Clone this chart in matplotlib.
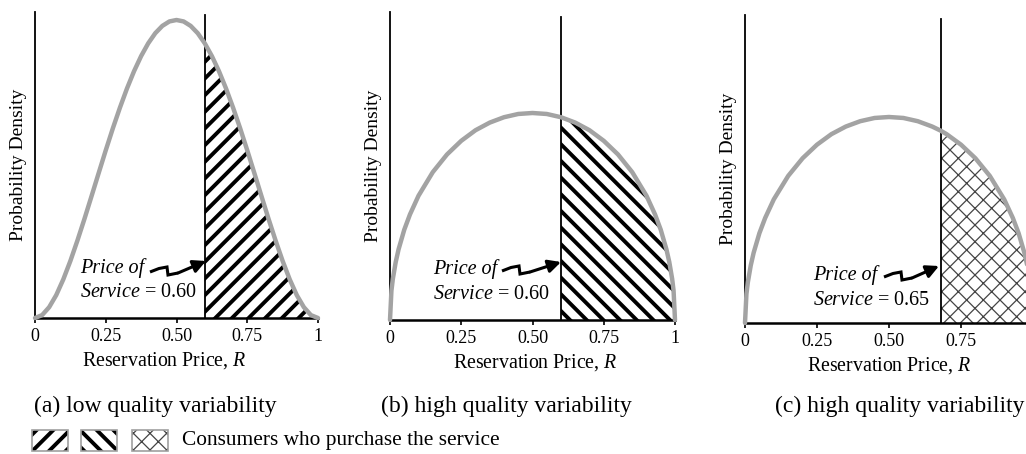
import numpy as np
import matplotlib
matplotlib.use("Agg")
import matplotlib.pyplot as plt
from matplotlib.lines import Line2D
from matplotlib.patches import Rectangle, FancyArrowPatch

plt.rcParams['font.family'] = ['Liberation Serif', 'DejaVu Serif']
plt.rcParams['mathtext.fontset'] = 'custom'
plt.rcParams['mathtext.rm'] = 'Liberation Serif'
plt.rcParams['mathtext.it'] = 'Liberation Serif:italic'

# ---------------- data ----------------
# (a) low quality variability: bell-shaped density
xa = [0, 0.025, 0.05, 0.075, 0.1, 0.125, 0.15, 0.175, 0.2, 0.225, 0.25, 0.275,
      0.3, 0.325, 0.35, 0.375, 0.4, 0.425, 0.45, 0.475, 0.5, 0.525, 0.55, 0.575,
      0.6, 0.625, 0.65, 0.675, 0.7, 0.725, 0.75, 0.775, 0.8, 0.825, 0.85, 0.875,
      0.9, 0.925, 0.95, 0.975, 1.0]
ya = [0, 0.018, 0.068, 0.144, 0.243, 0.359, 0.488, 0.625, 0.768, 0.912, 1.055,
      1.193, 1.323, 1.444, 1.553, 1.648, 1.728, 1.792, 1.838, 1.866, 1.875,
      1.866, 1.838, 1.792, 1.728, 1.648, 1.553, 1.444, 1.323, 1.193, 1.055,
      0.912, 0.768, 0.625, 0.488, 0.359, 0.243, 0.144, 0.068, 0.018, 0]

# (b) high quality variability: dome-shaped density
xb = [0, 0.005, 0.01, 0.02, 0.03, 0.05, 0.07, 0.1, 0.15, 0.2, 0.25, 0.3, 0.35,
      0.4, 0.45, 0.5, 0.55, 0.6, 0.65, 0.7, 0.75, 0.8, 0.85, 0.9, 0.93, 0.95,
      0.97, 0.98, 0.99, 0.995, 1.0]
yb = [0, 0.180, 0.253, 0.356, 0.434, 0.555, 0.649, 0.764, 0.909, 1.018, 1.102,
      1.167, 1.214, 1.247, 1.267, 1.273, 1.267, 1.247, 1.214, 1.167, 1.102,
      1.018, 0.909, 0.764, 0.649, 0.555, 0.434, 0.356, 0.253, 0.180, 0]

# (c) high quality variability, higher price
xc = [0, 0.005, 0.01, 0.02, 0.03, 0.05, 0.07, 0.1, 0.15, 0.2, 0.25, 0.3, 0.35,
      0.4, 0.45, 0.5, 0.55, 0.6, 0.65, 0.68, 0.7, 0.75, 0.8, 0.85, 0.9, 0.93,
      0.95, 0.97, 0.98, 0.99, 0.995, 1.0]
yc = [0, 0.180, 0.253, 0.356, 0.434, 0.555, 0.649, 0.764, 0.909, 1.018, 1.102,
      1.167, 1.214, 1.247, 1.267, 1.273, 1.267, 1.247, 1.214, 1.188, 1.167,
      1.102, 1.018, 0.909, 0.764, 0.649, 0.555, 0.434, 0.356, 0.253, 0.180, 0]

prices = [0.60, 0.60, 0.68]          # drawn position of the price line
price_labels = ["0.60", "0.60", "0.65"]
tick_vals = [0, 0.25, 0.5, 0.75, 1]
tick_labels = ["0", "0.25", "0.50", "0.75", "1"]
captions = ["(a) low quality variability", "(b) high quality variability",
            "(c) high quality variability"]
legend_text = "Consumers who purchase the service"

# ---------------- layout ----------------
W, H = 1026, 454
fig = plt.figure(figsize=(W / 100, H / 100), dpi=100)

def rect(l, r, t, b):
    return [l / W, 1 - b / H, (r - l) / W, (b - t) / H]

def fx(x):
    return x / W

def fy(y):
    return 1 - y / H

ax_px = [(35, 318, 12, 318), (390, 675, 12, 320), (745, 1033, 15, 323)]
peak_px = [20, 113, 117]
line_top_px = [15, 17, 19]
xlabel_center = [0.455, 0.51, 0.50]
hatches = ['//', '\\\\', 'xx']
hatch_lw = [2.8, 2.8, 0.9]
hatch_col = ['black', 'black', '#444444']
datasets = [(xa, ya), (xb, yb), (xc, yc)]
curve_col = '#a3a3a3'

for i, ((xs, ys), (l, r, t, b)) in enumerate(zip(datasets, ax_px)):
    ax = fig.add_axes(rect(l, r, t, b))
    xs = np.asarray(xs)
    ys = np.asarray(ys)
    peak = ys.max()
    frac = (b - peak_px[i]) / (b - t)
    ymax = peak / frac
    ax.set_xlim(0, 1)
    ax.set_ylim(0, ymax)

    p = prices[i]
    m = xs >= p - 1e-9
    coll = ax.fill_between(xs[m], 0, ys[m], facecolor='white',
                           edgecolor=hatch_col[i], hatch=hatches[i],
                           linewidth=0, zorder=1)
    try:
        coll.set_hatch_linewidth(hatch_lw[i])
    except Exception:
        pass
    ax.plot(xs, ys, color=curve_col, lw=3.2, solid_capstyle='round',
            zorder=3, clip_on=False)
    lt = (b - line_top_px[i]) / (b - t)
    ax.axvline(p, ymin=0, ymax=lt, color='black', lw=1.3, zorder=2)

    for s in ['top', 'right']:
        ax.spines[s].set_visible(False)
    ax.spines['left'].set_linewidth(1.3)
    ax.spines['bottom'].set_linewidth(1.8)
    ax.set_yticks([])
    if i == 2:
        ax.set_xticks(tick_vals[:-1])
        ax.set_xticklabels(tick_labels[:-1])
    else:
        ax.set_xticks(tick_vals)
        ax.set_xticklabels(tick_labels)
    ax.tick_params(axis='x', direction='out', length=3.5, width=1.2,
                   labelsize=13, pad=4)
    ax.set_xlabel("Reservation Price, $R$", fontsize=14.3)
    ax.xaxis.set_label_coords(xlabel_center[i], -0.105)
    ax.set_ylabel("Probability Density", fontsize=14)
    ax.yaxis.set_label_coords(-0.028, 0.5)
    ax.patch.set_alpha(0)

# ---------------- price annotations ----------------
text_left = [80, 433, 813]
base1 = [273, 274, 280]
base2 = [297, 299, 305]
sq_start = [(150, 272), (502, 271), (884, 277)]
sq_tip = [(206, 261), (561, 262), (939, 266)]
shape = [(0, 0), (9, -3.5), (17, -5), (18, 3), (28, 1)]
for i in range(3):
    fig.text(fx(text_left[i]), fy(base1[i]), "Price of", fontsize=14.5,
             style='italic', va='baseline', ha='left')
    fig.text(fx(text_left[i]), fy(base2[i]),
             r"$\mathit{Service}$ = " + price_labels[i], fontsize=14.5,
             va='baseline', ha='left')
    sx, sy = sq_start[i]
    pts = [(sx + dx, sy + dy) for dx, dy in shape]
    fig.add_artist(Line2D([fx(x) for x, _ in pts], [fy(y) for _, y in pts],
                          transform=fig.transFigure, color='black', lw=2.2,
                          solid_joinstyle='miter', solid_capstyle='butt'))
    ex, ey = pts[-1]
    tx, ty = sq_tip[i]
    fig.add_artist(FancyArrowPatch((fx(ex), fy(ey)), (fx(tx), fy(ty)),
                                   transform=fig.transFigure,
                                   arrowstyle='-|>,head_length=7.5,head_width=3.8',
                                   mutation_scale=1, color='black', lw=2.2,
                                   shrinkA=0, shrinkB=0))

# ---------------- captions ----------------
cap_x = [155, 506, 900]
for cx, c in zip(cap_x, captions):
    fig.text(fx(cx), fy(406), c, fontsize=17, ha='center', va='center')

# ---------------- legend ----------------
box_l = [32, 81, 132]
for bl, hp, lw_, hc in zip(box_l, hatches, hatch_lw, hatch_col):
    rr = Rectangle((fx(bl), fy(451)), 36 / W, 21 / H, transform=fig.transFigure,
                   facecolor='white', edgecolor=hc, hatch=hp, linewidth=0)
    try:
        rr.set_hatch_linewidth(lw_)
    except Exception:
        pass
    fig.add_artist(rr)
    fig.add_artist(Rectangle((fx(bl), fy(451)), 36 / W, 21 / H,
                             transform=fig.transFigure, facecolor='none',
                             edgecolor='#a0a0a0', linewidth=1.2))
fig.text(fx(182), fy(440), legend_text, fontsize=15.4, ha='left', va='center')

fig.savefig("out.png", dpi=100)
